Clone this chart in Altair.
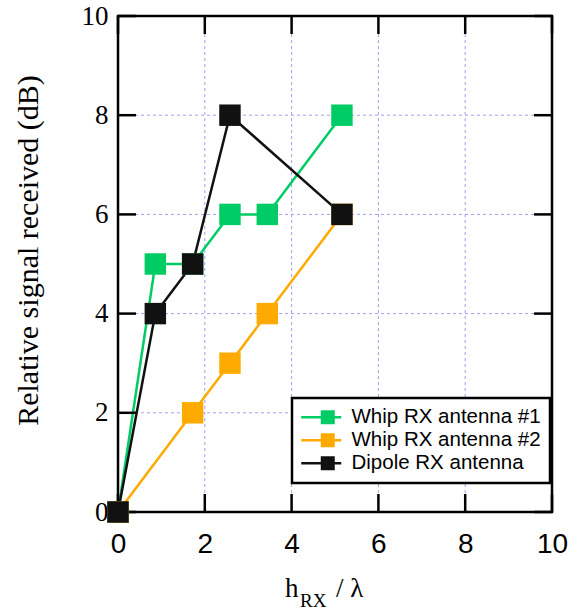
import altair as alt
import pandas as pd

# ---- data ----
series_names = ["Whip RX antenna #1", "Whip RX antenna #2", "Dipole RX antenna"]
series_colors = ["#00cc66", "#ffaa00", "#111111"]

whip1_x = [0, 0.86, 1.72, 2.58, 3.44, 5.16]
whip1_y = [0, 5, 5, 6, 6, 8]
whip2_x = [0, 1.72, 2.58, 3.44, 5.16]
whip2_y = [0, 2, 3, 4, 6]
dipole_x = [0, 0.86, 1.72, 2.58, 5.16]
dipole_y = [0, 4, 5, 8, 6]

tick_values = [0, 2, 4, 6, 8, 10]
y_title = "Relative signal received (dB)"
x_title_main = ["h"]
x_title_sub = ["RX"]
x_title_rest = ["/ λ"]

rows = []
for name, xs, ys in zip(series_names, [whip1_x, whip2_x, dipole_x], [whip1_y, whip2_y, dipole_y]):
    for i, (a, b) in enumerate(zip(xs, ys)):
        rows.append({"series": name, "x": a, "y": b, "idx": i})
df = pd.DataFrame(rows)
ticks_df = pd.DataFrame({"t": tick_values})

W, H = 434, 496
TL = 18

xscale = alt.Scale(domain=[0, 10], nice=False, zero=False)
yscale = alt.Scale(domain=[0, 10], nice=False, zero=False)
cscale = alt.Scale(domain=series_names, range=series_colors)

# legend glyph: a line segment with a square on it
legend_path = "M-1,-0.125H3V0.125H-1Z M0.95,-0.7H2.35V0.7H0.95Z"

# interior dashed grid
grid_style = dict(color="#a0a0f0", strokeWidth=1, strokeDash=[3, 3])
inner = alt.Chart(ticks_df).transform_filter((alt.datum.t > 0) & (alt.datum.t < 10))
grid_v = inner.mark_rule(**grid_style).encode(x=alt.X("t:Q", scale=xscale))
grid_h = inner.mark_rule(**grid_style).encode(y=alt.Y("t:Q", scale=yscale))

line_layers = []
for k, (name, col) in enumerate(zip(series_names, series_colors)):
    enc = dict(
        x=alt.X("x:Q", scale=xscale),
        y=alt.Y("y:Q", scale=yscale),
        order="idx:Q",
    )
    if k == 0:
        enc["x"] = alt.X("x:Q", scale=xscale, axis=alt.Axis(values=tick_values, title=None))
        enc["y"] = alt.Y("y:Q", scale=yscale, axis=alt.Axis(values=tick_values, title=y_title))
    line_layers.append(
        alt.Chart(df).transform_filter(alt.datum.series == name)
        .mark_line(strokeWidth=2.5, clip=False, color=col).encode(**enc)
    )

pts = alt.Chart(df).mark_point(filled=True, shape="square", size=460, opacity=1, clip=False).encode(
    x=alt.X("x:Q", scale=xscale),
    y=alt.Y("y:Q", scale=yscale),
    color=alt.Color("series:N", scale=cscale, sort=series_names,
                    legend=alt.Legend(title=None, orient="none", legendX=174, legendY=382)),
)

tick_style = dict(color="black", strokeWidth=2.5)
left_ticks = alt.Chart(ticks_df).mark_rule(**tick_style).encode(
    y=alt.Y("t:Q", scale=yscale), x=alt.value(0), x2=alt.value(TL))
right_ticks = alt.Chart(ticks_df).mark_rule(**tick_style).encode(
    y=alt.Y("t:Q", scale=yscale), x=alt.value(W - TL), x2=alt.value(W))
bottom_ticks = alt.Chart(ticks_df).mark_rule(**tick_style).encode(
    x=alt.X("t:Q", scale=xscale), y=alt.value(H - TL), y2=alt.value(H))
top_ticks = alt.Chart(ticks_df).mark_rule(**tick_style).encode(
    x=alt.X("t:Q", scale=xscale), y=alt.value(0), y2=alt.value(TL))

t_main = alt.Chart(pd.DataFrame({"s": x_title_main})).mark_text(
    font="Liberation Serif", fontSize=27, align="left", baseline="alphabetic", color="black"
).encode(text="s:N", x=alt.value(167), y=alt.value(581))
t_sub = alt.Chart(pd.DataFrame({"s": x_title_sub})).mark_text(
    font="Liberation Serif", fontSize=19, align="left", baseline="alphabetic", color="black"
).encode(text="s:N", x=alt.value(182), y=alt.value(591))
t_rest = alt.Chart(pd.DataFrame({"s": x_title_rest})).mark_text(
    font="Liberation Serif", fontSize=27, align="left", baseline="alphabetic", color="black"
).encode(text="s:N", x=alt.value(218), y=alt.value(581))

chart = alt.layer(
    grid_v, grid_h, *line_layers, left_ticks, right_ticks, bottom_ticks, top_ticks, pts,
    t_main, t_sub, t_rest
).properties(
    width=W, height=H,
    background="white",
    autosize=alt.AutoSizeParams(type="none"),
    padding={"left": 118, "top": 16, "right": 25, "bottom": 100},
).configure_view(
    stroke="black", strokeWidth=2.5
).configure_axis(
    grid=False, ticks=False, tickSize=0, domain=False,
    labelColor="black", labelFlush=False, labelOverlap=False,
).configure_axisX(
    labelFont="Liberation Sans", labelFontSize=28, labelPadding=18,
).configure_axisY(
    labelFont="Liberation Serif", labelFontSize=27, labelPadding=10,
    titleFont="Liberation Serif", titleFontSize=30, titleFontWeight="normal",
    titleColor="black", titleX=-81, titleY=234, titleBaseline="alphabetic", titleAngle=270,
).configure_legend(
    symbolType=legend_path, symbolSize=400, symbolStrokeWidth=0,
    labelFont="Liberation Sans", labelFontSize=20.5, labelColor="black", labelLimit=400,
    labelOffset=30, padding=9, rowPadding=2,
    strokeColor="black", strokeWidth=2.5, fillColor="white",
)

chart.save("out.html", embed_options={"renderer": "svg", "actions": False})
